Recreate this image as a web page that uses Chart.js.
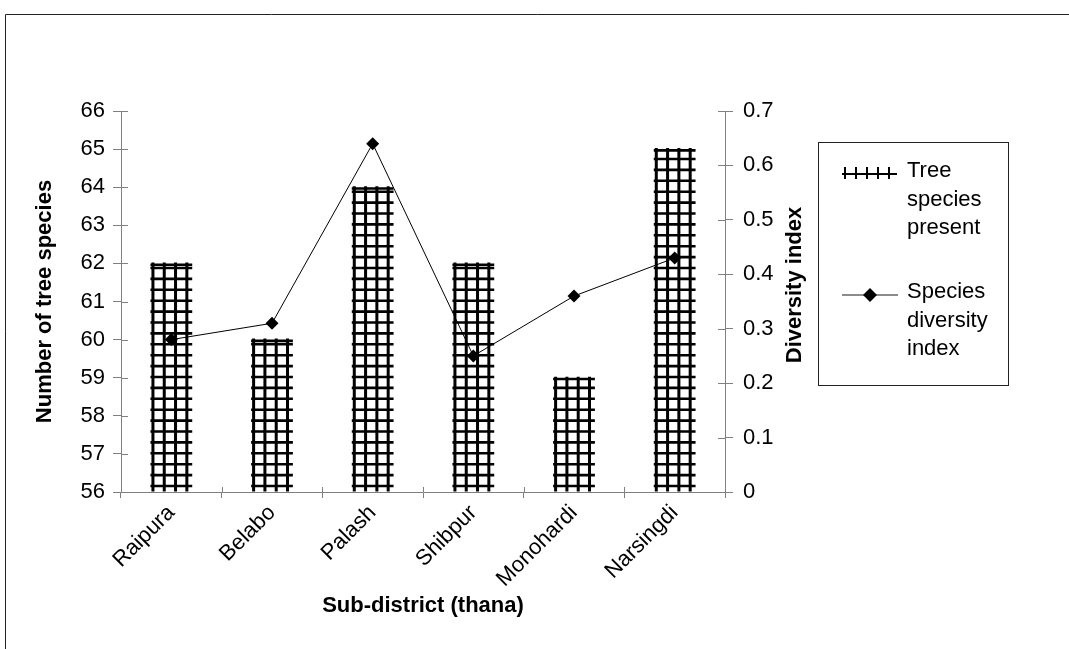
<!DOCTYPE html>
<html>
<head>
<meta charset="utf-8">
<script src="https://cdn.jsdelivr.net/npm/chart.js@4/dist/chart.umd.min.js"></script>
<style>
  html, body { margin: 0; padding: 0; background: #fff; }
  #wrap { position: relative; width: 1069px; height: 649px; }
</style>
</head>
<body>
<div id="wrap"><canvas id="c" width="1069" height="649"></canvas></div>
<script>
const categories = ['Raipura', 'Belabo', 'Palash', 'Shibpur', 'Monohardi', 'Narsingdi'];
const treeSpecies = [62, 60, 64, 62, 59, 65];
const diversityIndex = [0.28, 0.31, 0.64, 0.25, 0.36, 0.43];
const leftTicks = { min: 56, max: 66, step: 1 };
const rightTicks = { min: 0, max: 0.7, step: 0.1 };
const seriesNames = [['Tree', 'species', 'present'], ['Species', 'diversity', 'index']];
const axisTitles = { x: 'Sub-district (thana)', y: 'Number of tree species', y1: 'Diversity index' };

const FONT = "'Liberation Sans', Arial, sans-serif";
const AXIS = '#808080';

const framePlugin = {
  id: 'frame',
  beforeDraw(chart) {
    const ctx = chart.ctx;
    ctx.save();
    ctx.strokeStyle = '#222';
    ctx.lineWidth = 1;
    ctx.beginPath();
    ctx.moveTo(5.5, 649); ctx.lineTo(5.5, 14.5); ctx.lineTo(1069, 14.5);
    ctx.stroke();
    ctx.restore();
  }
};

const gridBarPlugin = {
  id: 'gridBars',
  afterDatasetDraw(chart, args) {
    if (args.index !== 0) return;
    const ctx = chart.ctx;
    const meta = args.meta;
    const ca = chart.chartArea;
    ctx.save();
    ctx.strokeStyle = '#000';
    meta.data.forEach(el => {
      const w = el.width;
      const left = el.x - w / 2, right = el.x + w / 2;
      const top = el.y, base = Math.min(el.base, ca.bottom);
      // horizontal lines
      ctx.lineWidth = 2.6;
      ctx.beginPath();
      for (let y = base - 5.5; y > top + 2; y -= 10.9) {
        ctx.moveTo(left, y); ctx.lineTo(right, y);
      }
      ctx.moveTo(left, top + 1.3); ctx.lineTo(right, top + 1.3);
      ctx.stroke();
      // vertical lines
      ctx.lineWidth = 3;
      ctx.beginPath();
      for (let i = 0; i < 4; i++) {
        const x = left + 2.5 + i * 11.3;
        ctx.moveTo(x, top - 1); ctx.lineTo(x, base);
      }
      ctx.stroke();
    });
    ctx.restore();
  }
};

const innerTicksPlugin = {
  id: 'innerTicks',
  afterDraw(chart) {
    const ctx = chart.ctx;
    const ca = chart.chartArea;
    const y = chart.scales.y, y1 = chart.scales.y1;
    ctx.save();
    ctx.strokeStyle = AXIS;
    ctx.lineWidth = 1;
    ctx.beginPath();
    y.ticks.forEach(t => { const p = Math.round(y.getPixelForValue(t.value)) + 0.5; ctx.moveTo(ca.left, p); ctx.lineTo(ca.left + 7, p); });
    y1.ticks.forEach(t => { const p = Math.round(y1.getPixelForValue(t.value)) + 0.5; ctx.moveTo(ca.right, p); ctx.lineTo(ca.right - 7, p); });
    for (let i = 0; i <= categories.length; i++) {
      const px = Math.round(ca.left + (ca.right - ca.left) * i / categories.length) + 0.5;
      ctx.moveTo(px, ca.bottom); ctx.lineTo(px, ca.bottom - 5);
    }
    ctx.stroke();

    // right axis title (reads bottom to top)
    ctx.fillStyle = '#000';
    ctx.font = "bold 22px " + FONT;
    ctx.textAlign = 'center';
    ctx.textBaseline = 'middle';
    ctx.translate(795, 285);
    ctx.rotate(-Math.PI / 2);
    ctx.fillText(axisTitles.y1, 0, 0);
    ctx.restore();
  }
};

const legendPlugin = {
  id: 'boxLegend',
  afterDraw(chart) {
    const ctx = chart.ctx;
    ctx.save();
    ctx.strokeStyle = '#222';
    ctx.lineWidth = 1;
    ctx.strokeRect(818.5, 142.5, 190, 243);
    // bar glyph
    ctx.strokeStyle = '#000';
    ctx.lineWidth = 2;
    ctx.beginPath();
    ctx.moveTo(842, 174); ctx.lineTo(897, 174);
    for (let i = 0; i < 5; i++) {
      const x = 845 + i * 11;
      ctx.moveTo(x, 167); ctx.lineTo(x, 179);
    }
    ctx.stroke();
    // line glyph
    ctx.strokeStyle = '#666';
    ctx.lineWidth = 1.3;
    ctx.beginPath();
    ctx.moveTo(842, 295); ctx.lineTo(898, 295);
    ctx.stroke();
    ctx.fillStyle = '#000';
    ctx.beginPath();
    ctx.moveTo(870, 288); ctx.lineTo(877, 295); ctx.lineTo(870, 302); ctx.lineTo(863, 295); ctx.closePath();
    ctx.fill();
    // text
    ctx.font = "22px " + FONT;
    ctx.textAlign = 'left';
    ctx.textBaseline = 'middle';
    seriesNames[0].forEach((t, i) => ctx.fillText(t, 907, 171 + i * 28.5));
    seriesNames[1].forEach((t, i) => ctx.fillText(t, 907, 292 + i * 28.5));
    ctx.restore();
  }
};

new Chart(document.getElementById('c'), {
  data: {
    labels: categories,
    datasets: [
      {
        type: 'bar',
        label: seriesNames[0].join(' '),
        data: treeSpecies,
        yAxisID: 'y',
        base: leftTicks.min,
        backgroundColor: 'rgba(0,0,0,0)',
        borderWidth: 0,
        barPercentage: 0.415,
        categoryPercentage: 1,
        order: 2
      },
      {
        type: 'line',
        label: seriesNames[1].join(' '),
        data: diversityIndex,
        yAxisID: 'y1',
        borderColor: '#000',
        borderWidth: 1,
        pointStyle: 'rectRot',
        pointRadius: 6.5,
        pointBackgroundColor: '#000',
        pointBorderColor: '#000',
        pointBorderWidth: 0,
        tension: 0,
        order: 1
      }
    ]
  },
  options: {
    responsive: false,
    devicePixelRatio: 1,
    animation: false,
    layout: { padding: { left: 32, right: 284, top: 111, bottom: 30 } },
    plugins: { legend: { display: false }, tooltip: { enabled: false } },
    scales: {
      x: {
        type: 'category',
        offset: true,
        grid: { display: true, drawOnChartArea: false, offset: true, tickLength: 6, color: AXIS },
        border: { color: AXIS },
        ticks: { autoSkip: false, minRotation: 45, maxRotation: 45, color: '#000', padding: 2, font: { family: FONT, size: 22 } },
        title: { display: true, text: axisTitles.x, color: '#000', padding: 0, font: { family: FONT, size: 22, weight: 'bold' } },
        afterFit: s => { s.height = 127; }
      },
      y: {
        position: 'left',
        min: leftTicks.min, max: leftTicks.max,
        grid: { display: true, drawOnChartArea: false, tickLength: 8, color: AXIS },
        border: { color: AXIS },
        ticks: { stepSize: leftTicks.step, color: '#000', padding: 8, font: { family: FONT, size: 22 } },
        title: { display: true, text: axisTitles.y, color: '#000', padding: 0, font: { family: FONT, size: 22, weight: 'bold' } },
        afterFit: s => { s.width = 89; }
      },
      y1: {
        position: 'right',
        min: rightTicks.min, max: rightTicks.max,
        grid: { display: true, drawOnChartArea: false, tickLength: 8, color: AXIS },
        border: { color: AXIS },
        ticks: { stepSize: rightTicks.step, color: '#000', padding: 10, font: { family: FONT, size: 22 },
                 callback: v => String(Math.round(v * 10) / 10) },
        afterFit: s => { s.width = 60; }
      }
    }
  },
  plugins: [framePlugin, gridBarPlugin, innerTicksPlugin, legendPlugin]
});
</script>
</body>
</html>
